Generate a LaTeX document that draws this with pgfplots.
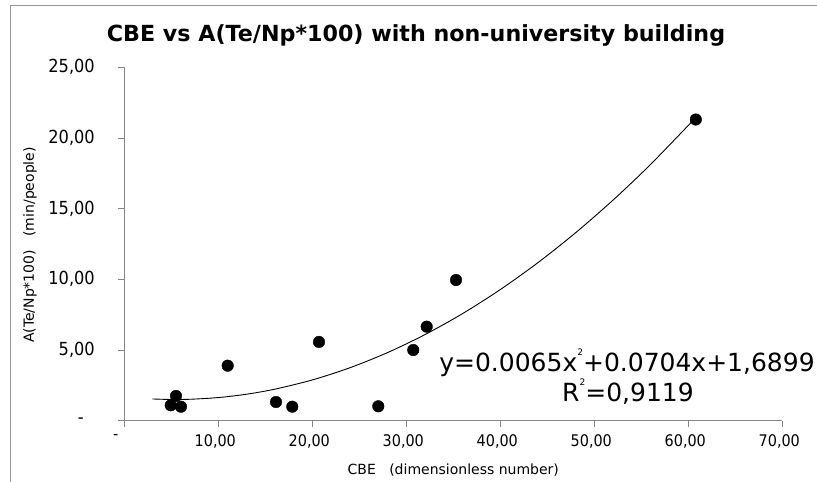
\documentclass[border=0pt]{standalone}
\usepackage{fontspec}
\setmainfont{DejaVu Sans}
\newfontfamily\condensed{DejaVu Sans Condensed}
\usepackage{pgfplots}
\pgfplotsset{compat=1.18}
\definecolor{axisgray}{RGB}{134,134,134}
\definecolor{framegray}{RGB}{150,150,150}

\newcommand{\sq}{\raisebox{0.62em}{\fontsize{9}{9}\selectfont 2}}
\newcommand{\pad}[1]{\rule{#1}{0pt}}

\begin{document}
\begin{tikzpicture}[x=1pt,y=1pt]
\useasboundingbox (-124.3,-61.3) rectangle (692.7,420.7);
% chart area frame
\draw[framegray, line width=1pt] (-113.3,-61.3) -- (-113.3,414.7) -- (692.7,414.7);
\begin{axis}[
  at={(0,0)}, anchor=south west,
  scale only axis, width=658pt, height=353.5pt,
  xmin=0, xmax=70, ymin=0, ymax=25,
  axis x line*=bottom, axis y line*=left,
  axis line style={-, axisgray, line width=1pt},
  tick style={axisgray, line width=0.8pt},
  tick align=outside, major tick length=6pt,
  xtick={0,10,...,70}, ytick={0,5,...,25},
  xticklabels={{-\pad{17pt}},{10,00\pad{6pt}},{20,00\pad{6pt}},{30,00\pad{6pt}},{40,00\pad{6pt}},{50,00\pad{6pt}},{60,00\pad{6pt}},{70,00\pad{6pt}}},
  yticklabels={{-\pad{11pt}},{5,00},{10,00},{15,00},{20,00},{25,00}},
  xticklabel style={font=\condensed\fontsize{16}{16}\selectfont, anchor=north, yshift=-4pt},
  yticklabel style={font=\condensed\fontsize{18}{18}\selectfont, anchor=east, xshift=-20pt},
  clip=false,
]
% fitted trend curve
\addplot[black, line width=0.9pt, smooth] coordinates {
  (3,1.537) (5,1.500) (7,1.516) (10,1.636) (13,1.873) (16,2.228)
  (20,2.882) (24,3.744) (28,4.815) (32,6.093) (36,7.580) (40,9.274)
  (44,11.176) (48,13.287) (52,15.605) (56,18.132) (60.8,21.438)
};
% observations
\addplot[only marks, mark=*, mark size=5.8pt, black] coordinates {
  (4.94,1.09) (5.50,1.75) (6.03,0.99) (11.00,3.89) (16.14,1.32)
  (17.87,0.99) (20.71,5.57) (27.02,1.02) (30.74,5.00) (32.17,6.65)
  (35.29,9.95) (60.80,21.30)
};
\end{axis}
\node[font=\bfseries\fontsize{22.2}{25}\selectfont] at (291.7,385.7) {CBE vs A(Te/Np*100) with non-university building};
\node[font=\fontsize{14}{16}\selectfont] at (329,-49.3) {CBE\ \ \ (dimensionless number)};
\node[font=\fontsize{14}{16}\selectfont, rotate=90] at (-94.3,175.7) {A(Te/Np*100)\ \ \ (min/people)};
\node[font=\fontsize{25}{28}\selectfont] at (502.7,57.7) {y=0.0065x\sq+0.0704x+1,6899};
\node[font=\fontsize{25}{28}\selectfont] at (503.7,29) {R\sq=0,9119};
\end{tikzpicture}
\end{document}
